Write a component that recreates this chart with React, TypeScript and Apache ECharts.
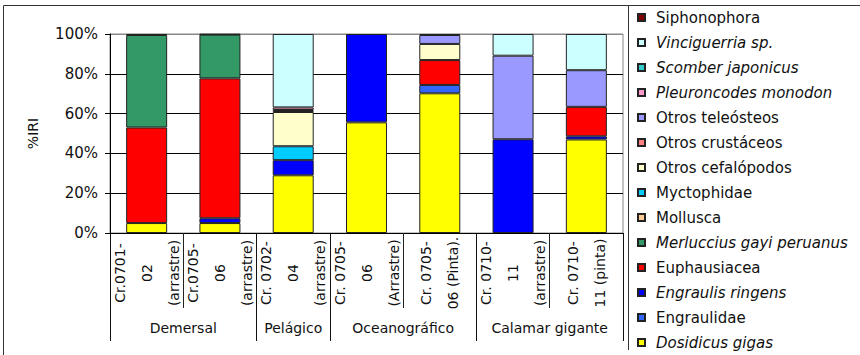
import React, { useEffect, useRef } from "react";
import * as echarts from "echarts";

const categories = [
  "Cr.0701-\n02\n(arrastre)",
  "Cr.0705-\n06\n(arrastre)",
  "Cr. 0702-\n04\n(arrastre)",
  "Cr. 0705-\n06\n(Arrastre)",
  "Cr. 0705-\n06 (Pinta).",
  "Cr. 0710-\n11\n(arrastre)",
  "Cr. 0710-\n11 (pinta)",
];

const groupPositions = [1, 2.5, 4, 6];
const groupNames = ["Demersal", "Pelágico", "Oceanográfico", "Calamar gigante"];
const groupBounds = [0, 2, 3, 5, 7];

const yTicks = [0, 20, 40, 60, 80, 100];

// stacking order, bottom to top
const dosidicus = [5, 5, 29, 55.6, 70.2, 0, 47];
const engraulidae = [0, 0, 0, 0, 4.2, 0, 0];
const engraulis = [0, 2.4, 7.6, 44.4, 0, 47.1, 1.6];
const euphausiacea = [48, 70.3, 0, 0, 12.5, 0, 14.8];
const merluccius = [46.5, 22, 0, 0, 0, 0, 0];
const mollusca = [0, 0, 0, 0, 0, 0, 0];
const myctophidae = [0, 0, 7, 0, 0, 0, 0];
const otrosCefalopodos = [0, 0, 17.2, 0, 8.1, 0, 0];
const otrosCrustaceos = [0, 0, 0, 0, 0, 0, 0];
const otrosTeleosteos = [0.5, 0, 1, 0, 4.5, 42, 18.4];
const pleuroncodes = [0, 0, 1.3, 0, 0, 0, 0];
const scomber = [0, 0, 0, 0, 0, 0, 0];
const vinciguerria = [0, 0, 36.9, 0, 0, 10.9, 18.2];
const siphonophora = [0, 0.3, 0, 0, 0.5, 0, 0];

const seriesDefs = [
  { name: "Dosidicus gigas", data: dosidicus, color: "#FFFF00", italic: true },
  { name: "Engraulidae", data: engraulidae, color: "#3366FF", italic: false },
  { name: "Engraulis ringens", data: engraulis, color: "#0000FF", italic: true },
  { name: "Euphausiacea", data: euphausiacea, color: "#FF0000", italic: false },
  { name: "Merluccius gayi peruanus", data: merluccius, color: "#339966", italic: true },
  { name: "Mollusca", data: mollusca, color: "#FFCC99", italic: false },
  { name: "Myctophidae", data: myctophidae, color: "#00CCFF", italic: false },
  { name: "Otros cefalópodos", data: otrosCefalopodos, color: "#FFFFCC", italic: false },
  { name: "Otros crustáceos", data: otrosCrustaceos, color: "#FF8080", italic: false },
  { name: "Otros teleósteos", data: otrosTeleosteos, color: "#9999FF", italic: false },
  { name: "Pleuroncodes monodon", data: pleuroncodes, color: "#FF99CC", italic: true },
  { name: "Scomber japonicus", data: scomber, color: "#33CCCC", italic: true },
  { name: "Vinciguerria sp.", data: vinciguerria, color: "#CCFFFF", italic: true },
  { name: "Siphonophora", data: siphonophora, color: "#800000", italic: false },
];

const FONT = "DejaVu Sans";

export default function App() {
  const ref = useRef<HTMLDivElement>(null);
  useEffect(() => {
    if (!ref.current) return;
    const chart = echarts.init(ref.current, undefined, { renderer: "svg" });
    const option: any = {
      animation: false,
      textStyle: { fontFamily: FONT },
      grid: { left: 110, right: 237, top: 34, bottom: 122, show: true, borderColor: "#888", borderWidth: 1 },
      legend: {
        orient: "vertical",
        left: 637,
        top: 10,
        bottom: 0,
        padding: 0,
        itemWidth: 7,
        itemHeight: 7,
        itemGap: 10,
        icon: "rect",
        textStyle: { fontSize: 15, color: "#111", fontFamily: FONT, lineHeight: 15, padding: [0, 0, 0, 6] },
        data: seriesDefs
          .slice()
          .reverse()
          .map((s) => ({ name: s.name, textStyle: { fontStyle: s.italic ? "italic" : "normal" } })),
      },
      xAxis: [
        {
          type: "category",
          data: categories,
          axisLine: { show: true, lineStyle: { color: "#000", width: 1 } },
          axisTick: { show: true, length: 75, lineStyle: { color: "#222" } },
          axisLabel: {
            interval: 0,
            rotate: 90,
            align: "center",
            verticalAlign: "middle",
            margin: 40,
            lineHeight: 27,
            fontSize: 14,
            color: "#111",
            fontFamily: FONT,
          },
        },
        {
          type: "value",
          min: 0,
          max: 7,
          position: "bottom",
          axisLine: { show: false },
          splitLine: { show: false },
          axisTick: { show: true, customValues: groupBounds, length: 108, lineStyle: { color: "#111" } },
          axisLabel: {
            customValues: groupPositions,
            formatter: (v: number) => groupNames[groupPositions.indexOf(v)] ?? "",
            margin: 95,
            verticalAlign: "middle",
            fontSize: 14,
            color: "#111",
            fontFamily: FONT,
          },
        },
      ],
      yAxis: {
        type: "value",
        min: 0,
        max: 100,
        interval: 20,
        name: "%IRI",
        nameLocation: "middle",
        nameGap: 70,
        nameTextStyle: { fontSize: 14, color: "#111", fontFamily: FONT },
        axisLine: { show: true, lineStyle: { color: "#000" } },
        axisTick: { show: true, length: 5, lineStyle: { color: "#000" } },
        axisLabel: {
          formatter: (v: number) => (yTicks.includes(v) ? v + "%" : ""),
          fontSize: 15,
          color: "#111",
          margin: 12,
          fontFamily: FONT,
        },
        splitLine: {
          show: true,
          lineStyle: { color: ["#000", "#000", "#000", "#000", "#000", "#888"], width: 1 },
        },
      },
      series: seriesDefs.map((s) => ({
        name: s.name,
        type: "bar",
        stack: "total",
        barWidth: 41,
        data: s.data.map((v) => (v === 0 ? null : v)),
        itemStyle: { color: s.color, borderColor: "#222", borderWidth: 1 },
        emphasis: { disabled: true },
      })),
      graphic: [
        {
          type: "rect",
          shape: { x: 3.5, y: 5.5, width: 900, height: 400 },
          style: { fill: "none", stroke: "#333", lineWidth: 1 },
          silent: true,
        },
        {
          type: "line",
          shape: { x1: 628.5, y1: 6, x2: 628.5, y2: 350 },
          style: { stroke: "#333", lineWidth: 1 },
          silent: true,
        },
      ],
    };
    chart.setOption(option);
    return () => chart.dispose();
  }, []);
  return (
    <div
      ref={ref}
      style={{ position: "fixed", left: 0, top: 0, width: 860, height: 355, background: "#fff" }}
    />
  );
}
